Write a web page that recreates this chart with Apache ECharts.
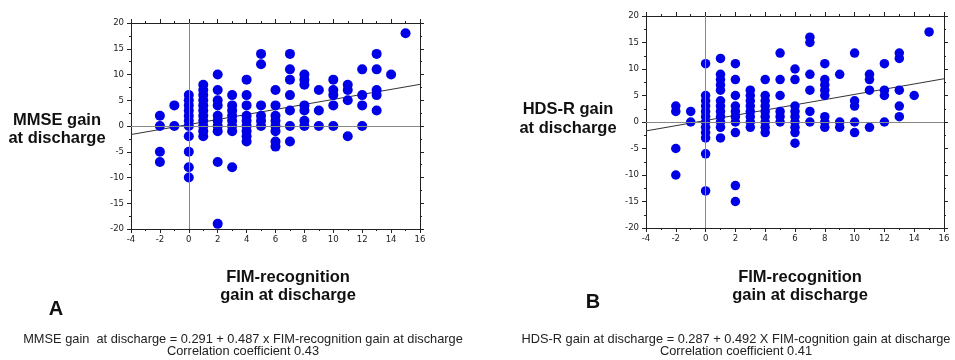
<!DOCTYPE html>
<html>
<head>
<meta charset="utf-8">
<script src="https://cdn.jsdelivr.net/npm/echarts@6/dist/echarts.min.js"></script>
<style>html,body{margin:0;padding:0;background:#fff;}#c{width:955px;height:360px;}</style>
</head>
<body>
<div id="c"></div>
<script>
// Panel A: [FIM-recognition gain, MMSE gain]
var mmsePoints = [
  [-2,2],[-2,0],[-2,-5],[-2,-7],
  [-1,4],[-1,0],
  [0,6],[0,5],[0,4],[0,3],[0,2],[0,1],[0,0],[0,-2],[0,-5],[0,-8],[0,-10],
  [1,8],[1,7],[1,6],[1,5],[1,4],[1,3],[1,2],[1,1],[1,0],[1,-1],[1,-2],
  [2,10],[2,7],[2,5],[2,4],[2,2],[2,1],[2,0],[2,-1],[2,-7],[2,-19],
  [3,6],[3,4],[3,3],[3,2],[3,1],[3,0],[3,-1],[3,-8],
  [4,9],[4,6],[4,4],[4,2],[4,1],[4,0],[4,-1],[4,-2],[4,-3],
  [5,14],[5,12],[5,4],[5,2],[5,1],[5,0],
  [6,7],[6,4],[6,2],[6,1],[6,0],[6,-1],[6,-3],[6,-4],
  [7,14],[7,11],[7,9],[7,6],[7,3],[7,0],[7,-3],
  [8,10],[8,9],[8,8],[8,4],[8,3],[8,1],[8,0],
  [9,7],[9,3],[9,0],
  [10,9],[10,7],[10,6],[10,4],[10,0],
  [11,8],[11,7],[11,5],[11,-2],
  [12,11],[12,6],[12,4],[12,0],
  [13,14],[13,11],[13,7],[13,6],[13,3],
  [14,10],
  [15,18]
];
// Panel B: [FIM-recognition gain, HDS-R gain]
var hdsrPoints = [
  [-2,3],[-2,2],[-2,-5],[-2,-10],
  [-1,2],[-1,0],
  [0,11],[0,5],[0,4],[0,3],[0,2],[0,1],[0,0],[0,-1],[0,-2],[0,-3],[0,-6],[0,-13],
  [1,12],[1,9],[1,8],[1,7],[1,6],[1,4],[1,3],[1,2],[1,1],[1,0],[1,-1],[1,-3],
  [2,11],[2,8],[2,5],[2,3],[2,2],[2,1],[2,0],[2,-2],[2,-12],[2,-15],
  [3,6],[3,5],[3,4],[3,3],[3,2],[3,1],[3,0],[3,-1],
  [4,8],[4,5],[4,4],[4,3],[4,2],[4,1],[4,0],[4,-1],[4,-2],
  [5,13],[5,8],[5,5],[5,2],[5,1],[5,0],
  [6,10],[6,8],[6,3],[6,2],[6,1],[6,0],[6,-1],[6,-2],[6,-4],
  [7,16],[7,15],[7,9],[7,6],[7,2],[7,0],
  [8,11],[8,8],[8,7],[8,6],[8,5],[8,1],[8,0],[8,-1],
  [9,9],[9,0],[9,-1],
  [10,13],[10,4],[10,3],[10,0],[10,-2],
  [11,9],[11,8],[11,6],[11,-1],
  [12,11],[12,6],[12,5],[12,0],
  [13,13],[13,12],[13,6],[13,3],[13,1],
  [14,5],
  [15,17]
];
var xRange = [-4, 16];
var yRange = [-20, 20];
var xTickStep = 2;
var yTickStep = 5;
var regA = {intercept: 0.291, slope: 0.487};
var regB = {intercept: 0.287, slope: 0.492};

var tickFont = {fontFamily: 'DejaVu Sans Condensed', fontSize: 9.5, color: '#222'};
var boldFont = 'bold 16.5px "Liberation Sans", Arial, sans-serif';
var eqFont = '12.8px "Liberation Sans", Arial, sans-serif';

function regLine(r) {
  return [[xRange[0], r.intercept + r.slope * xRange[0]], [xRange[1], r.intercept + r.slope * xRange[1]]];
}

function xAxes(gi) {
  var base = {
    type: 'value', gridIndex: gi, min: xRange[0], max: xRange[1], interval: xTickStep,
    axisLine: {show: true, onZero: false, lineStyle: {color: '#222', width: 1}},
    axisTick: {show: true, inside: false, length: 4, lineStyle: {color: '#222'}},
    minorTick: {show: true, splitNumber: 2, length: 2, lineStyle: {color: '#222'}},
    splitLine: {show: false}
  };
  var bottom = Object.assign({}, base, {position: 'bottom', axisLabel: Object.assign({margin: 6}, tickFont)});
  var top = Object.assign({}, base, {position: 'top', axisLabel: {show: false}});
  return [bottom, top];
}
function yAxes(gi) {
  var base = {
    type: 'value', gridIndex: gi, min: yRange[0], max: yRange[1], interval: yTickStep,
    axisLine: {show: true, onZero: false, lineStyle: {color: '#222', width: 1}},
    axisTick: {show: true, inside: false, length: 4, lineStyle: {color: '#222'}},
    minorTick: {show: true, splitNumber: 2, length: 2, lineStyle: {color: '#222'}},
    splitLine: {show: false}
  };
  var left = Object.assign({}, base, {position: 'left', axisLabel: Object.assign({margin: 7}, tickFont)});
  var right = Object.assign({}, base, {position: 'right', axisLabel: {show: false}});
  return [left, right];
}

var zeroLines = {
  silent: true, symbol: 'none', label: {show: false},
  lineStyle: {color: '#888', width: 1, type: 'solid'},
  data: [{xAxis: 0}, {yAxis: 0}]
};

function txt(x, y, s, font, fill) {
  return {type: 'text', x: x, y: y, style: {text: s, font: font, fill: fill || '#111', align: 'center', verticalAlign: 'middle'}};
}

var option = {
  animation: false,
  backgroundColor: '#fff',
  grid: [
    {left: 131, top: 23, width: 289, height: 206},
    {left: 646, top: 16, width: 298, height: 212}
  ],
  xAxis: xAxes(0).concat(xAxes(1)),
  yAxis: yAxes(0).concat(yAxes(1)),
  series: [
    {type: 'line', xAxisIndex: 0, yAxisIndex: 0, data: regLine(regA), symbol: 'none',
     lineStyle: {color: '#333', width: 1}, z: 3, markLine: zeroLines},
    {type: 'scatter', xAxisIndex: 0, yAxisIndex: 0, data: mmsePoints, symbolSize: 10,
     itemStyle: {color: '#0000e6', opacity: 1}, z: 4},
    {type: 'line', xAxisIndex: 2, yAxisIndex: 2, data: regLine(regB), symbol: 'none',
     lineStyle: {color: '#333', width: 1}, z: 3, markLine: zeroLines},
    {type: 'scatter', xAxisIndex: 2, yAxisIndex: 2, data: hdsrPoints, symbolSize: 9.5,
     itemStyle: {color: '#0000e6', opacity: 1}, z: 4}
  ],
  graphic: [
    txt(57, 120, 'MMSE gain', boldFont),
    txt(57, 138, 'at discharge', boldFont),
    txt(568, 109, 'HDS-R gain', boldFont),
    txt(568, 128, 'at discharge', boldFont),
    txt(288, 277, 'FIM-recognition', boldFont),
    txt(288, 295, 'gain at discharge', boldFont),
    txt(800, 277, 'FIM-recognition', boldFont),
    txt(800, 295, 'gain at discharge', boldFont),
    txt(56, 309, 'A', 'bold 20px "Liberation Sans", Arial, sans-serif'),
    txt(593, 302, 'B', 'bold 20px "Liberation Sans", Arial, sans-serif'),
    txt(243, 339, 'MMSE gain  at discharge = 0.291 + 0.487 x FIM-recognition gain at discharge', eqFont, '#222'),
    txt(243, 351, 'Correlation coefficient 0.43', eqFont, '#222'),
    txt(736, 339, 'HDS-R gain at discharge = 0.287 + 0.492 X FIM-cognition gain at discharge', eqFont, '#222'),
    txt(736, 351, 'Correlation coefficient 0.41', eqFont, '#222')
  ]
};
var chart = echarts.init(document.getElementById('c'), null, {renderer: 'canvas'});
chart.setOption(option);
</script>
</body>
</html>
